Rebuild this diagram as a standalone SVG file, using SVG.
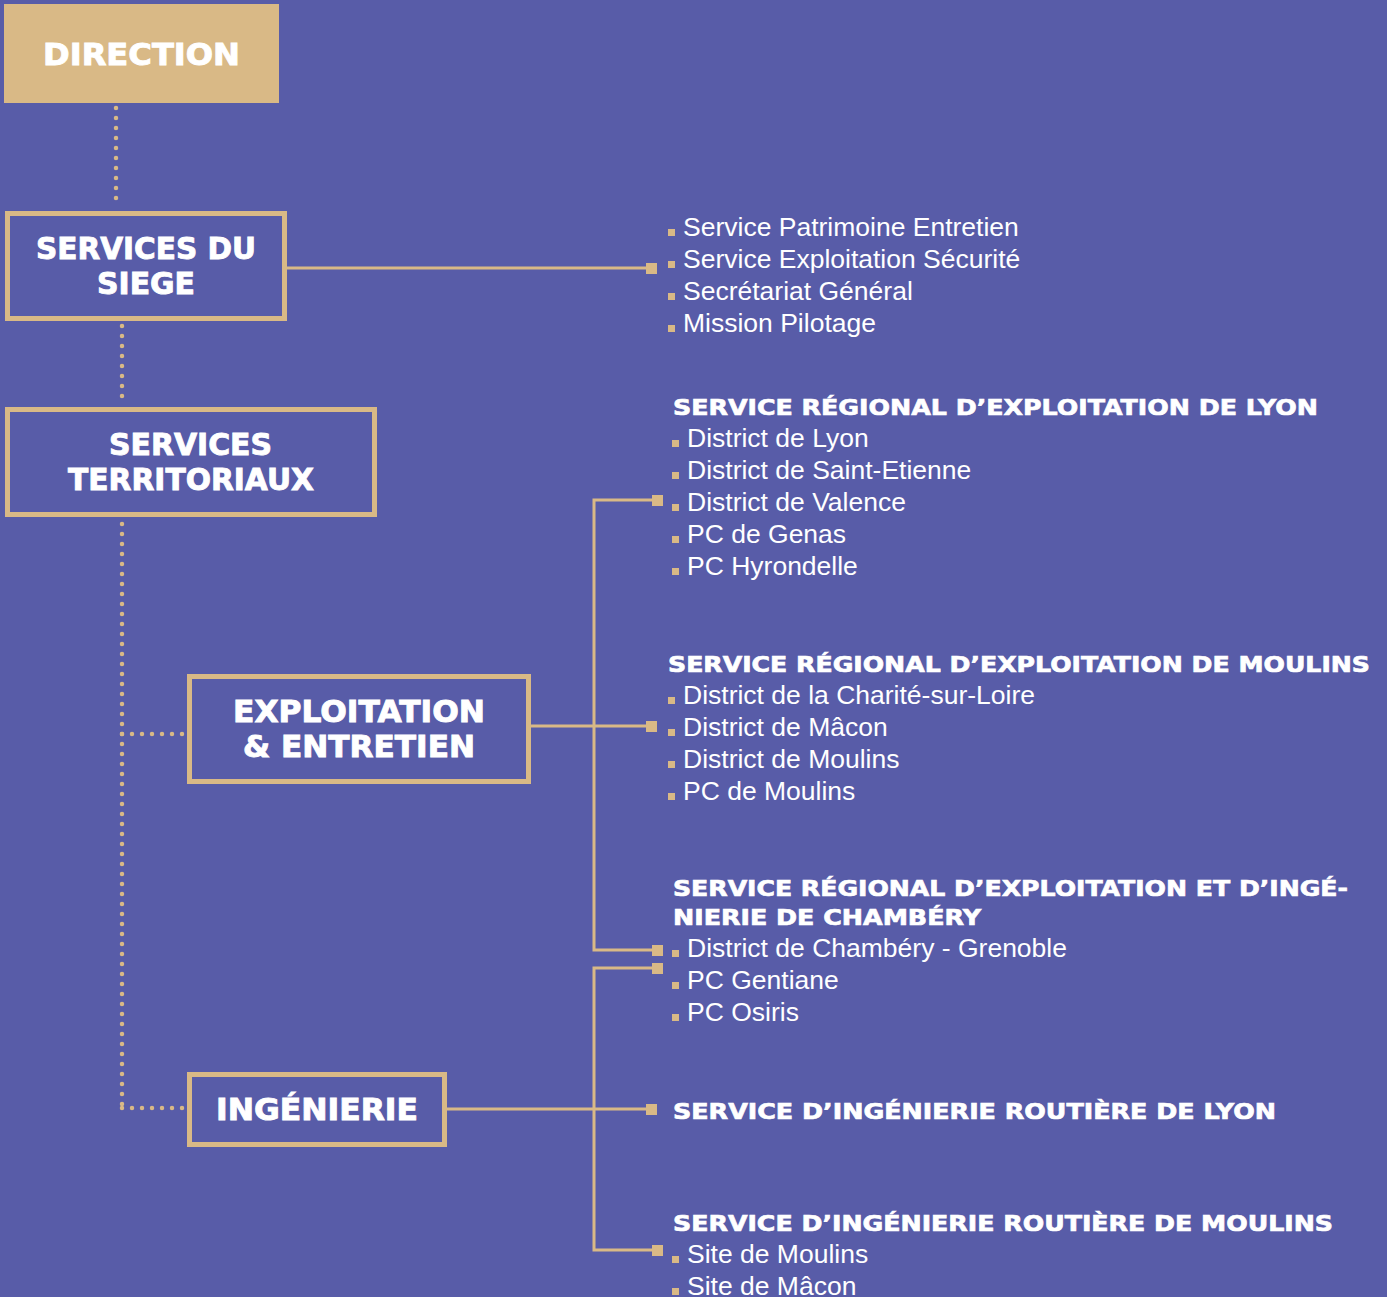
<svg xmlns="http://www.w3.org/2000/svg" width="1387" height="1297" viewBox="0 0 1387 1297">
<defs>
<style>
.bg{fill:#585CA8}
.box{fill:#585CA8;stroke:#D9B986;stroke-width:5}
.boxf{fill:#D9B986}
.lbl{font-family:"DejaVu Sans","Liberation Sans",sans-serif;font-weight:bold;fill:#fff;stroke:#fff;stroke-width:0.9;font-size:30px}
.hd{font-family:"DejaVu Sans","Liberation Sans",sans-serif;font-weight:bold;fill:#fff;stroke:#fff;stroke-width:0.7;font-size:22px}
.it{font-family:"Liberation Sans",Arial,sans-serif;fill:#fff;font-size:26.5px}
.ln{stroke:#D9B986;stroke-width:3;fill:none}
.dot{stroke:#D9B986;stroke-width:4.5;fill:none;stroke-linecap:round;stroke-dasharray:0 10}
.sq{fill:#D9B986}
</style>
</defs>
<rect class="bg" x="0" y="0" width="1387" height="1297"/>
<g id="connectors">
<path class="dot" d="M116 108 V208"/>
<path class="dot" d="M122 326 V406"/>
<path class="dot" d="M122 524 V1108"/>
<path class="dot" d="M122 734 H193"/>
<path class="dot" d="M122 1108 H187"/>
<path class="ln" d="M286 268 H650"/>
<rect class="sq" x="646" y="263" width="11" height="11"/>
<path class="ln" d="M530 726 H650"/>
<rect class="sq" x="646" y="721" width="11" height="11"/>
<path class="ln" d="M446 1109 H650"/>
<rect class="sq" x="646" y="1104" width="11" height="11"/>
<path class="ln" d="M655 500 H594 V950 H655"/>
<rect class="sq" x="652" y="495" width="11" height="11"/>
<rect class="sq" x="652" y="945" width="11" height="11"/>
<path class="ln" d="M655 968 H594 V1250 H655"/>
<rect class="sq" x="652" y="963" width="11" height="11"/>
<rect class="sq" x="652" y="1245" width="11" height="11"/>
</g>
<g id="direction">
<rect class="boxf" x="4" y="4" width="275" height="99"/>
<text class="lbl" x="43" y="65" font-size="32" textLength="197" lengthAdjust="spacingAndGlyphs">DIRECTION</text>
</g>
<g id="siege">
<rect class="box" x="7.5" y="213.5" width="277" height="105"/>
<text class="lbl" x="36" y="259" textLength="220" lengthAdjust="spacingAndGlyphs">SERVICES DU</text>
<text class="lbl" x="97" y="294" textLength="98" lengthAdjust="spacingAndGlyphs">SIEGE</text>
</g>
<g id="territoriaux">
<rect class="box" x="7.5" y="409.5" width="367" height="105"/>
<text class="lbl" x="109" y="455" textLength="163" lengthAdjust="spacingAndGlyphs">SERVICES</text>
<text class="lbl" x="68" y="490" textLength="246" lengthAdjust="spacingAndGlyphs">TERRITORIAUX</text>
</g>
<g id="exploitation">
<rect class="box" x="189.5" y="676.5" width="339" height="105"/>
<text class="lbl" x="233" y="722" textLength="252" lengthAdjust="spacingAndGlyphs">EXPLOITATION</text>
<text class="lbl" x="243" y="757" textLength="232" lengthAdjust="spacingAndGlyphs">&amp; ENTRETIEN</text>
</g>
<g id="ingenierie">
<rect class="box" x="189.5" y="1074.5" width="255" height="70"/>
<text class="lbl" x="216" y="1120" textLength="202" lengthAdjust="spacingAndGlyphs">INGÉNIERIE</text>
</g>
<g id="list-siege">
<rect class="sq" x="668" y="229" width="7" height="7"/><text class="it" x="683" y="236">Service Patrimoine Entretien</text>
<rect class="sq" x="668" y="261" width="7" height="7"/><text class="it" x="683" y="268">Service Exploitation Sécurité</text>
<rect class="sq" x="668" y="293" width="7" height="7"/><text class="it" x="683" y="300">Secrétariat Général</text>
<rect class="sq" x="668" y="325" width="7" height="7"/><text class="it" x="683" y="332">Mission Pilotage</text>
</g>
<g id="sre-lyon">
<text class="hd" x="673" y="415" textLength="645" lengthAdjust="spacingAndGlyphs">SERVICE RÉGIONAL D’EXPLOITATION DE LYON</text>
<rect class="sq" x="672" y="440" width="7" height="7"/><text class="it" x="687" y="447">District de Lyon</text>
<rect class="sq" x="672" y="472" width="7" height="7"/><text class="it" x="687" y="479">District de Saint-Etienne</text>
<rect class="sq" x="672" y="504" width="7" height="7"/><text class="it" x="687" y="511">District de Valence</text>
<rect class="sq" x="672" y="536" width="7" height="7"/><text class="it" x="687" y="543">PC de Genas</text>
<rect class="sq" x="672" y="568" width="7" height="7"/><text class="it" x="687" y="575">PC Hyrondelle</text>
</g>
<g id="sre-moulins">
<text class="hd" x="668" y="672" textLength="702" lengthAdjust="spacingAndGlyphs">SERVICE RÉGIONAL D’EXPLOITATION DE MOULINS</text>
<rect class="sq" x="668" y="697" width="7" height="7"/><text class="it" x="683" y="704">District de la Charité-sur-Loire</text>
<rect class="sq" x="668" y="729" width="7" height="7"/><text class="it" x="683" y="736">District de Mâcon</text>
<rect class="sq" x="668" y="761" width="7" height="7"/><text class="it" x="683" y="768">District de Moulins</text>
<rect class="sq" x="668" y="793" width="7" height="7"/><text class="it" x="683" y="800">PC de Moulins</text>
</g>
<g id="sre-chambery">
<text class="hd" x="673" y="896" textLength="675" lengthAdjust="spacingAndGlyphs">SERVICE RÉGIONAL D’EXPLOITATION ET D’INGÉ-</text>
<text class="hd" x="673" y="925" textLength="308" lengthAdjust="spacingAndGlyphs">NIERIE DE CHAMBÉRY</text>
<rect class="sq" x="672" y="950" width="7" height="7"/><text class="it" x="687" y="957">District de Chambéry - Grenoble</text>
<rect class="sq" x="672" y="982" width="7" height="7"/><text class="it" x="687" y="989">PC Gentiane</text>
<rect class="sq" x="672" y="1014" width="7" height="7"/><text class="it" x="687" y="1021">PC Osiris</text>
</g>
<g id="sir-lyon">
<text class="hd" x="673" y="1119" textLength="603" lengthAdjust="spacingAndGlyphs">SERVICE D’INGÉNIERIE ROUTIÈRE DE LYON</text>
</g>
<g id="sir-moulins">
<text class="hd" x="673" y="1231" textLength="660" lengthAdjust="spacingAndGlyphs">SERVICE D’INGÉNIERIE ROUTIÈRE DE MOULINS</text>
<rect class="sq" x="672" y="1256" width="7" height="7"/><text class="it" x="687" y="1263">Site de Moulins</text>
<rect class="sq" x="672" y="1288" width="7" height="7"/><text class="it" x="687" y="1295">Site de Mâcon</text>
</g>
</svg>
